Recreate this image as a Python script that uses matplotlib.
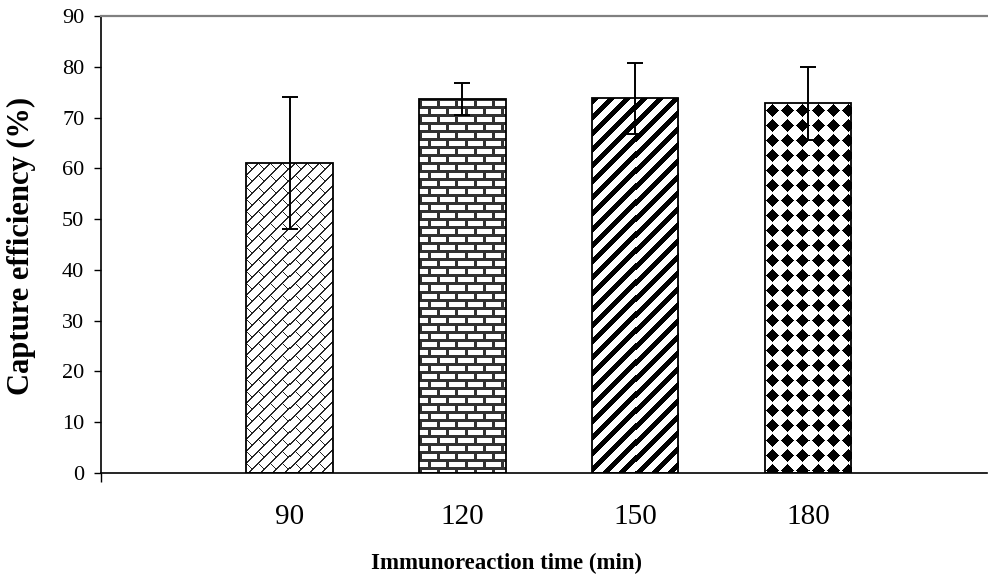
import numpy as np
import matplotlib
matplotlib.use("Agg")
import matplotlib.pyplot as plt

# capture efficiency vs immunoreaction time
times = ["90", "120", "150", "180"]
efficiency = [61.0, 73.7, 73.8, 72.8]
errors = [13.0, 3.1, 7.0, 7.2]

plt.rcParams['font.family'] = ['Liberation Serif', 'DejaVu Serif']


def tile_diag_brick(n=12):
    t = np.zeros((n, n))
    for c in range(n):
        t[n - 1 - c, c] = 1
        t[n - 1 - c, (c + 1) % n] = 1
    for i in range(n // 2):
        t[i, i] = 1
    return t


def tile_brick():
    t = np.zeros((16, 18))
    t[0:3, :] = 1
    t[8:11, :] = 1
    t[3:8, 0:3] = 1
    t[11:16, 9:12] = 1
    return t


def tile_stripes():
    r, c = np.mgrid[0:16, 0:16]
    return (((c + r) % 16) < 7).astype(float)


def tile_diamonds():
    r, c = np.mgrid[0:15, 0:15]
    return ((np.abs(c - 7) + np.abs(r - 7)) <= 6).astype(float)


tiles = [(tile_diag_brick(), 0.15), (tile_brick(), 0.2),
         (tile_stripes(), 0.0), (tile_diamonds(), 0.0)]

fig = plt.figure(figsize=(9.88, 5.79), dpi=100)
ax = fig.add_axes([101 / 988, 1 - 473 / 579, 886 / 988, 457 / 579])

x = np.arange(1, len(times) + 1)
width = 0.5
bars = ax.bar(x, efficiency, width, color='white', edgecolor='none', zorder=2)
ax.set_xlim(-0.091, 5.036)
ax.set_ylim(0, 90)

# fill each bar with its pixel texture
fig.canvas.draw()
for bar, (tile, dark) in zip(bars, tiles):
    bb = bar.get_window_extent()
    w = int(round(bb.width))
    h = int(round(bb.height))
    th, tw = tile.shape
    mask = np.tile(tile, (h // th + 2, w // tw + 2))[:h, :w]
    img = 1 - mask * (1 - dark)
    rgb = np.dstack([img, img, img])
    x0 = bar.get_x()
    im = ax.imshow(rgb, extent=(x0, x0 + bar.get_width(), 0, bar.get_height()),
                   interpolation='nearest', aspect='auto', zorder=2.5)
    im.set_clip_path(bar)

ax.bar(x, efficiency, width, fill=False, edgecolor='black', linewidth=1.3, zorder=3)
ax.errorbar(x, efficiency, yerr=errors, fmt='none', ecolor='black',
            elinewidth=1.4, capsize=5.8, capthick=1.4, zorder=4)

ax.set_xlim(-0.091, 5.036)
ax.set_ylim(0, 90)

ax.spines['right'].set_visible(False)
ax.spines['top'].set_color('#808080')
ax.spines['top'].set_linewidth(1.6)
ax.spines['left'].set_linewidth(1.2)
ax.spines['bottom'].set_linewidth(1.2)

ax.set_yticks(np.arange(0, 91, 10))
ax.tick_params(axis='y', direction='out', length=5, width=1, pad=7, labelsize=16)
ax.set_xticks(x)
ax.set_xticklabels(times)
ax.tick_params(axis='x', length=0, pad=22, labelsize=21)
ax.set_xticks([-0.091], minor=True)
ax.tick_params(axis='x', which='minor', direction='out', length=6.5, width=1)

fig.text(21 / 988, 1 - 246 / 579, "Capture efficiency (%)", rotation=90,
         ha='center', va='center', fontsize=22, fontweight='bold')
fig.text(506 / 988, 1 - 563 / 579, "Immunoreaction time (min)",
         ha='center', va='center', fontsize=16.5, fontweight='bold')

fig.savefig("out.png", dpi=100)
